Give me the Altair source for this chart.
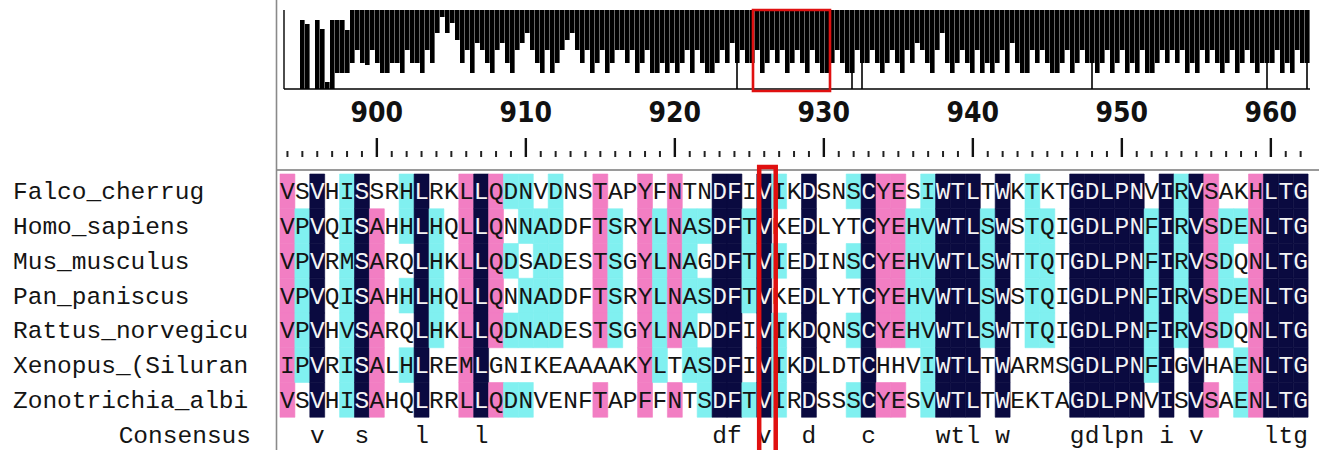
import altair as alt
import pandas as pd
from collections import Counter

# ---------------- data ----------------
names = ["Falco_cherrug", "Homo_sapiens", "Mus_musculus", "Pan_paniscus",
         "Rattus_norvegicu", "Xenopus_(Siluran", "Zonotrichia_albi"]
seqs = [
    "VSVHISSRHLRKLLQDNVDNSTAPYFNTNDFIVIKDSNSCYESIWTLTWKTKTGDLPNVIRVSAKHLTG",
    "VPVQISAHHLHQLLQNNADDFTSRYLNASDFTVKEDLYTCYEHVWTLSWSTQIGDLPNFIRVSDENLTG",
    "VPVRMSARQLHKLLQDSADESTSGYLNAGDFTVIEDINSCYEHVWTLSWTTQTGDLPNFIRVSDQNLTG",
    "VPVQISAHHLHQLLQNNADDFTSRYLNASDFTVKEDLYTCYEHVWTLSWSTQIGDLPNFIRVSDENLTG",
    "VPVHVSARQLHKLLQDNADESTSGYLNADDFIVIKDQNSCYEHVWTLSWTTQIGDLPNFIRVSDQNLTG",
    "IPVRISALHLREMLGNIKEAAAAKYLTASDFIVIKDLDTCHHVIWTLTWARMSGDLPNFIGVHAENLTG",
    "VSVHISAHQLRRLLQDNVENFTAPFFNTSDFTVIRDSSSCYESVWTLTWEKTAGDLPNVISVSAENLTG",
]
consensus = "  v  s   l   l" + " " * 15 + "df v  d   c" + " " * 4 + "wtl w" + " " * 4 + "gdlpn i v" + " " * 4 + "ltg"
first_pos = 894
ruler_labels = [900, 910, 920, 930, 940, 950, 960]
highlight_pos = 926
similar_groups = ["IVLM", "FY", "NH"]

# overview conservation profile (bins of the whole alignment), lower / upper edge
ov_lo = ([0, 0, 0, 0, 0, 0, 0] +
         [16, 16, 16, 26, 39, 26, 24, 39, 26, 16, 16, 26, 26, 16, 39, 26, 26, 16, 39, 26,
          56, 72, 56, 66, 49, 26, 39, 16, 46, 39, 26, 16, 39, 46, 26, 16, 39, 46, 56, 39,
          26, 16, 39, 16, 26, 39, 49, 56, 39, 26, 39, 16, 26, 39, 16, 26, 39, 39] +
         [26, 39, 16, 26, 39, 16, 16, 26, 16, 26, 16, 26, 39, 16, 39, 26, 16, 16, 26, 39,
          26, 46, 26, 39, 26, 26, 39, 16, 26, 39, 26, 39, 16, 26, 39, 26, 16, 39, 26, 16,
          16, 26, 39, 26, 16, 16, 39, 26, 26, 39, 26, 16, 26, 39, 26, 16, 39, 26, 46, 39,
          26, 16, 39, 56, 26, 16, 26, 39] +
         [26, 16, 39, 16, 26, 16, 26, 39, 16, 46, 26, 16, 16, 39, 26, 39, 26, 16, 16, 26,
          39, 16, 26, 39, 26, 26, 16, 26, 39, 16, 26, 39, 16, 26, 16, 39, 16, 16, 26, 39,
          26, 39, 26, 39, 16, 26, 16, 39, 26, 39, 26, 16, 26, 39, 16, 26, 39, 26, 16, 26,
          26, 26, 39, 16, 26, 16, 39, 26, 26])
ov_hi = [69, 65, 0, 69, 60, 7, 69, 69, 69, 59] + [79] * 192
ov_spikes = [87, 110, 112, 158, 193, 201]
ov_window = [90.6, 106.0]

# ---------------- derived tables ----------------
NAVY, PINK, CYAN = "#0a0a40", "#f27ec3", "#80f0f0"


def similar(a, b):
    return a == b or any(a in g and b in g for g in similar_groups)


cells = []
for k in range(len(seqs[0])):
    col = [s[k] for s in seqs]
    top, c = Counter(col).most_common(1)[0]
    level = "N" if c == len(seqs) else ("P" if c == len(seqs) - 1 else ("C" if c >= 4 else "W"))
    for r, ch in enumerate(col):
        lv = level if (ch == top or (level != "W" and similar(ch, top))) else "W"
        cells.append({"pos": first_pos + k, "row": r, "ch": ch, "lv": lv,
                      "tc": "w" if lv == "N" else "b"})
cells = pd.DataFrame(cells)
cells["x0"] = cells["pos"] - 0.5
cells["x1"] = cells["pos"] + 0.5
cells["r1"] = cells["row"] + 1
cells["yc"] = cells["row"] + 0.5
colored = cells[cells["lv"] != "W"]

cons = pd.DataFrame([{"pos": first_pos + k, "ch": ch, "yc": len(seqs) + 0.5}
                     for k, ch in enumerate(consensus) if ch != " "])
labels = pd.DataFrame({"name": names + ["Consensus"],
                       "yc": [i + 0.5 for i in range(len(names) + 1)],
                       "side": ["l"] * len(names) + ["r"]})
ticks = pd.DataFrame({"pos": list(range(first_pos, first_pos + len(seqs[0])))})
ticks["major"] = ticks["pos"] % 10 == 0
rlab = pd.DataFrame({"pos": ruler_labels, "t": [str(v) for v in ruler_labels]})
hl = pd.DataFrame({"a": [highlight_pos - 0.34], "b": [highlight_pos + 0.77]})

ov = pd.DataFrame({"bin": list(range(len(ov_lo))), "lo": ov_lo, "hi": ov_hi})
ov["b1"] = ov["bin"] + 0.92
sp = ov[ov["bin"].isin(ov_spikes)].copy()
sp["bx"] = sp["bin"] + 0.4
sp["zero"] = 0
win = pd.DataFrame({"w0": [ov_window[0]], "w1": [ov_window[1]]})

# ---------------- overview group ----------------
xs_ov = alt.Scale(domain=[0, len(ov_lo)], range=[300, 1310])
ys_ov = alt.Scale(domain=[0, 79], range=[89, 10])

ov_bars = alt.Chart(ov).mark_rect(color="black").encode(
    x=alt.X("bin:Q", scale=xs_ov, axis=None), x2="b1",
    y=alt.Y("lo:Q", scale=ys_ov, axis=None), y2="hi")
ov_sp = alt.Chart(sp).mark_rule(color="black", strokeWidth=1.6).encode(
    x=alt.X("bx:Q", scale=xs_ov, axis=None),
    y=alt.Y("zero:Q", scale=ys_ov, axis=None), y2="lo")
ov_base = alt.Chart(win).mark_rule(color="black", strokeWidth=1.6).encode(
    x=alt.value(284), x2=alt.value(1310), y=alt.value(89))
ov_axis = alt.Chart(win).mark_rule(color="black", strokeWidth=1.4).encode(
    x=alt.value(284), y=alt.value(10), y2=alt.value(89))
ov_win = alt.Chart(win).mark_rect(filled=False, stroke="#e01010", strokeWidth=2.6).encode(
    x=alt.X("w0:Q", scale=xs_ov, axis=None), x2="w1",
    y=alt.value(10), y2=alt.value(91))
overview = alt.layer(ov_bars, ov_sp, ov_base, ov_axis, ov_win)

# ---------------- alignment group ----------------
xs = alt.Scale(domain=[874.708, 963.232], range=[0, 1319])
ys = alt.Scale(domain=[0, 8], range=[174, 452])
MONO = "Liberation Mono, DejaVu Sans Mono, monospace"

frame_h = alt.Chart(win).mark_rule(color="#9a9a9a", strokeWidth=2).encode(
    x=alt.value(276), x2=alt.value(1319), y=alt.value(170))
frame_v = alt.Chart(win).mark_rule(color="#8a8a8a", strokeWidth=1.6).encode(
    x=alt.value(276.5), y=alt.value(0), y2=alt.value(450))

minor = alt.Chart(ticks[~ticks["major"]]).mark_rule(color="#222", strokeWidth=2).encode(
    x=alt.X("pos:Q", scale=xs, axis=None), y=alt.value(151), y2=alt.value(157))
major = alt.Chart(ticks[ticks["major"]]).mark_rule(color="#111", strokeWidth=2.4).encode(
    x=alt.X("pos:Q", scale=xs, axis=None), y=alt.value(138), y2=alt.value(157))
rtext = alt.Chart(rlab).mark_text(
    font="Liberation Sans Narrow, Arial Narrow, Noto Sans Condensed, DejaVu Sans Condensed, sans-serif",
    fontSize=28, fontWeight=600, baseline="alphabetic", color="#111").encode(
    x=alt.X("pos:Q", scale=xs, axis=None), y=alt.value(122), text="t:N")

rects = alt.Chart(colored).mark_rect(strokeWidth=0.6).encode(
    x=alt.X("x0:Q", scale=xs, axis=None), x2="x1",
    y=alt.Y("row:Q", scale=ys, axis=None), y2="r1",
    fill=alt.Fill("lv:N", scale=alt.Scale(domain=["N", "P", "C"], range=[NAVY, PINK, CYAN]), legend=None),
    stroke=alt.Stroke("lv:N", scale=alt.Scale(domain=["N", "P", "C"], range=[NAVY, PINK, CYAN]), legend=None))
letters = alt.Chart(cells).mark_text(font=MONO, fontSize=24.5, baseline="alphabetic", dy=8).encode(
    x=alt.X("pos:Q", scale=xs, axis=None), y=alt.Y("yc:Q", scale=ys, axis=None), text="ch:N",
    color=alt.Color("tc:N", scale=alt.Scale(domain=["w", "b"], range=["#f4f4f4", "#141414"]), legend=None))
cons_t = alt.Chart(cons).mark_text(font=MONO, fontSize=24.5, baseline="alphabetic", dy=8, color="#141414").encode(
    x=alt.X("pos:Q", scale=xs, axis=None), y=alt.Y("yc:Q", scale=ys, axis=None), text="ch:N")
names_l = alt.Chart(labels[labels["side"] == "l"]).mark_text(
    font=MONO, fontSize=24.5, align="left", baseline="alphabetic", dy=8, color="#141414").encode(
    x=alt.value(13), y=alt.Y("yc:Q", scale=ys, axis=None), text="name:N")
names_r = alt.Chart(labels[labels["side"] == "r"]).mark_text(
    font=MONO, fontSize=24.5, align="right", baseline="alphabetic", dy=8, color="#141414").encode(
    x=alt.value(251), y=alt.Y("yc:Q", scale=ys, axis=None), text="name:N")
hl_box = alt.Chart(hl).mark_rect(filled=False, stroke="#e01010", strokeWidth=4.5).encode(
    x=alt.X("a:Q", scale=xs, axis=None), x2="b", y=alt.value(167), y2=alt.value(470))

alignment = alt.layer(frame_h, frame_v, minor, major, rtext, rects, letters, cons_t,
                      names_l, names_r, hl_box)

chart = alt.layer(overview, alignment).resolve_scale(
    x="independent", y="independent"
).properties(
    width=1319, height=450, padding=0,
    autosize=alt.AutoSizeParams(type="none"),
    background="white"
).configure_view(stroke=None)

chart.save("out.html", embed_options={"renderer": "svg", "actions": False})
